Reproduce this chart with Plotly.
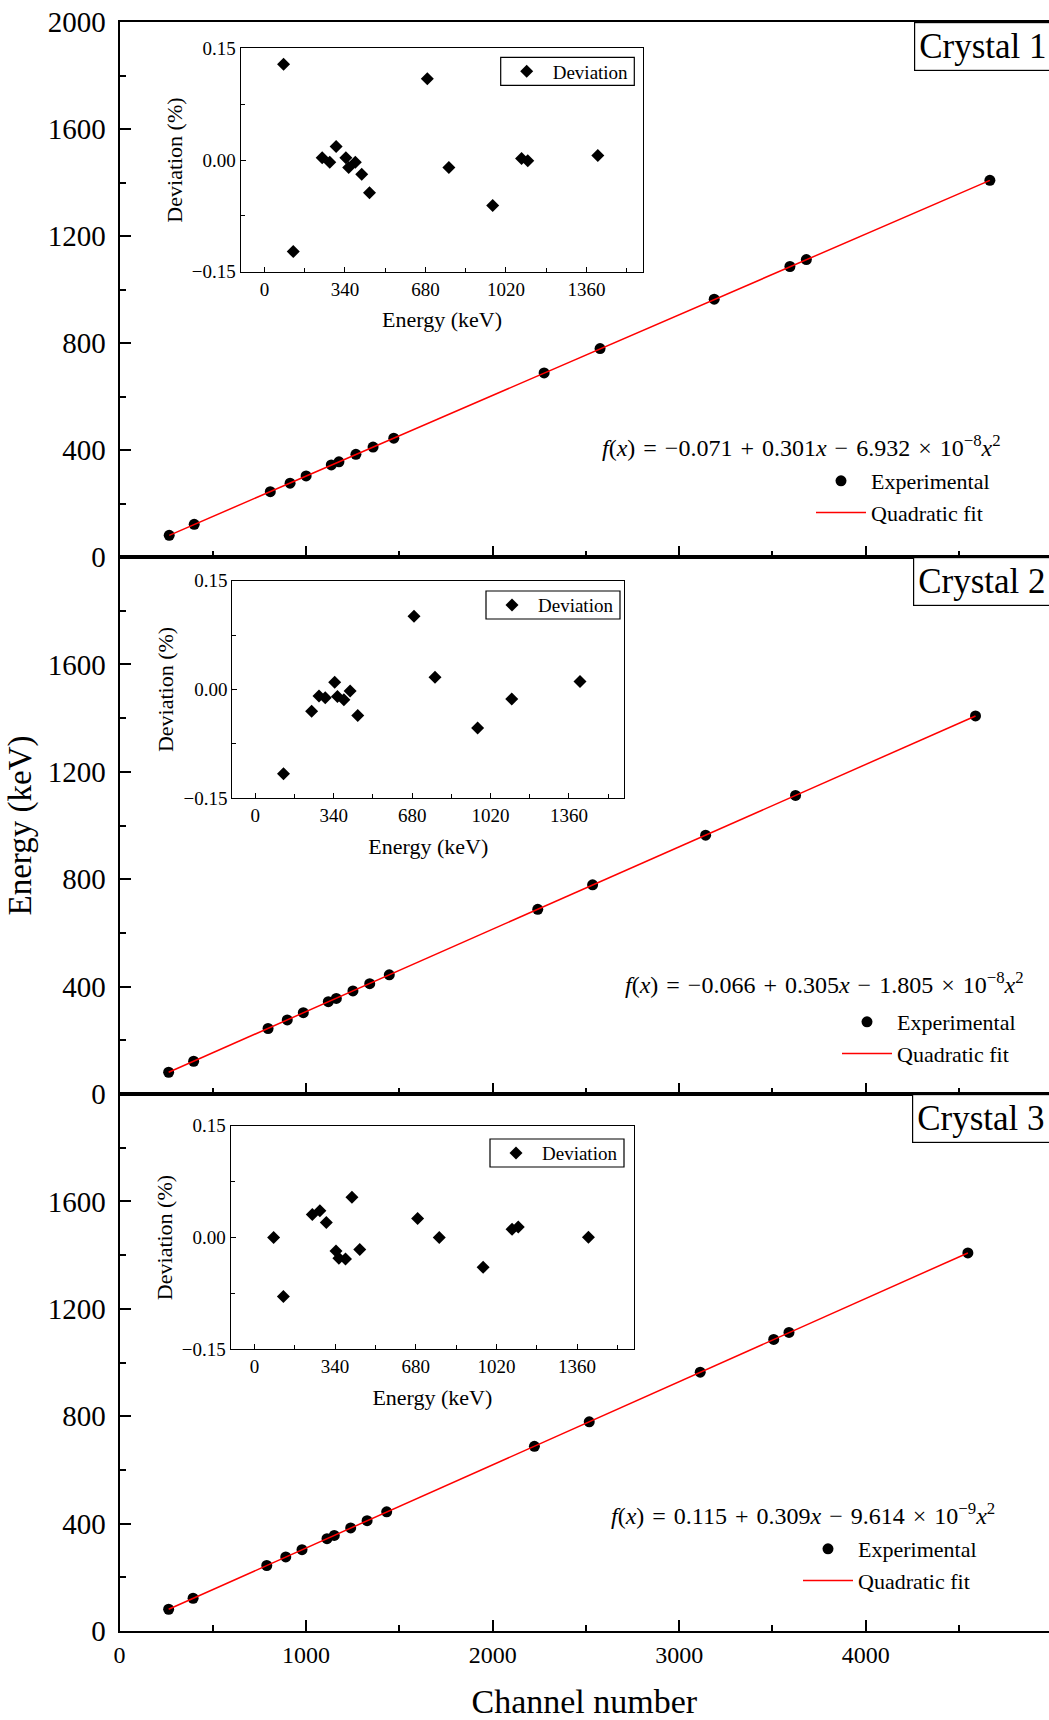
import plotly.graph_objects as go

W, H = 1049, 1720
FONT = "Liberation Serif"

# ---------------- data ----------------
# Crystal 1
ch1 = [266, 400, 808, 914, 1000, 1135, 1176, 1267, 1359, 1470, 2276, 2576, 3188, 3594, 3682, 4666]
en1 = [81, 122, 244, 276, 303, 344, 356, 384, 411, 444, 688, 779, 964, 1086, 1112, 1408]
fit1_ch = [266, 4666]
fit1_en = [81, 1408]
dev1_e = [81, 122, 244, 276, 303, 344, 356, 384, 411, 444, 688, 779, 964, 1086, 1112, 1408]
dev1 = [0.1285, -0.123, 0.003, -0.003, 0.018, 0.003, -0.010, -0.003, -0.019, -0.044,
        0.109, -0.010, -0.061, 0.002, -0.001, 0.006]

# Crystal 2
ch2 = [263, 397, 796, 899, 985, 1119, 1162, 1251, 1341, 1446, 2242, 2536, 3142, 3624, 4589]
en2 = [81, 122, 244, 276, 303, 344, 356, 384, 411, 444, 688, 779, 964, 1112, 1408]
fit2_ch = [263, 4589]
fit2_en = [81, 1408]
dev2_e = [122, 244, 276, 303, 344, 356, 384, 411, 444, 688, 779, 964, 1112, 1408]
dev2 = [-0.116, -0.030, -0.009, -0.0115, 0.010, -0.0096, -0.014, -0.002, -0.036,
        0.101, 0.017, -0.053, -0.013, 0.011]

# Crystal 3
ch3 = [263, 394, 789, 891, 978, 1112, 1151, 1239, 1327, 1432, 2224, 2518, 3113, 3507, 3589, 4548]
en3 = [81, 122, 244, 276, 303, 344, 356, 384, 411, 444, 688, 779, 964, 1086, 1112, 1408]
fit3_ch = [263, 4548]
fit3_en = [81, 1408]
dev3_e = [81, 122, 244, 276, 303, 344, 356, 384, 411, 444, 688, 779, 964, 1086, 1112, 1408]
dev3 = [0.000, -0.079, 0.031, 0.036, 0.020, -0.018, -0.028, -0.029, 0.054, -0.016,
        0.0255, 0.000, -0.040, 0.011, 0.014, 0.0004]

crystal_labels = ["Crystal 1", "Crystal 2", "Crystal 3"]
SP = " \u200a"
formulas = [
    f"<i>f</i>(<i>x</i>){SP}={SP}\u22120.071{SP}+{SP}0.301<i>x</i>{SP}\u2212{SP}6.932{SP}\u00d7{SP}10<sup>\u22128</sup><i>x</i><sup>2</sup>",
    f"<i>f</i>(<i>x</i>){SP}={SP}\u22120.066{SP}+{SP}0.305<i>x</i>{SP}\u2212{SP}1.805{SP}\u00d7{SP}10<sup>\u22128</sup><i>x</i><sup>2</sup>",
    f"<i>f</i>(<i>x</i>){SP}={SP}0.115{SP}+{SP}0.309<i>x</i>{SP}\u2212{SP}9.614{SP}\u00d7{SP}10<sup>\u22129</sup><i>x</i><sup>2</sup>",
]

main_x_ticks = [0, 1000, 2000, 3000, 4000]
main_x_minor = [500, 1500, 2500, 3500, 4500]
main_y_ticks_top = [0, 400, 800, 1200, 1600, 2000]
main_y_ticks = [0, 400, 800, 1200, 1600]
main_y_minor = [200, 600, 1000, 1400, 1800]
ins_x_ticks = [0, 340, 680, 1020, 1360]
ins_x_minor = [170, 510, 850, 1190, 1530]
ins_y_ticks = [-0.15, 0.0, 0.15]
ins_y_text = ["\u22120.15", "0.00", "0.15"]
ins_y_minor = [-0.075, 0.075]


def px(x):
    return x / W


def py(y):
    return 1 - y / H


# ---------------- geometry (pixels in the 1049x1720 page) ----------------
main_left = 119.6
panels = [(22, 557), (557, 1094), (1094, 1631)]           # top, bottom
insets = [(240.7, 643.3, 48.3, 271.7),
          (232.3, 624.3, 580.7, 798.3),
          (230.7, 634.0, 1125.7, 1349.3)]                   # l, r, t, b
main_leg = [(811, 460), (837, 1001), (798, 1528)]           # legend left, top
ins_leg_box = [(500.7, 634.3, 57.3, 85.3),
               (486.0, 620.0, 591.0, 619.0),
               (490.0, 624.0, 1139.0, 1167.0)]
formula_pos = [(600, 446), (623, 983), (609, 1514)]
crystal_box = [(914, 22), (913, 557), (912, 1094)]

fig = go.Figure()

data_main = [(ch1, en1, fit1_ch, fit1_en), (ch2, en2, fit2_ch, fit2_en), (ch3, en3, fit3_ch, fit3_en)]
data_dev = [(dev1_e, dev1), (dev2_e, dev2), (dev3_e, dev3)]

for i in range(3):
    n = i + 1
    xa = "x" if n == 1 else f"x{n}"
    ya = "y" if n == 1 else f"y{n}"
    lg = "legend" if n == 1 else f"legend{n}"
    ch, en, fch, fen = data_main[i]
    fig.add_trace(go.Scatter(x=ch, y=en, mode="markers", name="Experimental",
                             marker=dict(color="black", size=11, symbol="circle"),
                             xaxis=xa, yaxis=ya, legend=lg))
    fig.add_trace(go.Scatter(x=fch, y=fen, mode="lines", name="Quadratic fit",
                             line=dict(color="#ff0000", width=1.5),
                             xaxis=xa, yaxis=ya, legend=lg))

for i in range(3):
    n = i + 4
    lg = f"legend{n}"
    de, dv = data_dev[i]
    fig.add_trace(go.Scatter(x=de, y=dv, mode="markers", name="Deviation",
                             marker=dict(color="black", size=10, symbol="diamond"),
                             xaxis=f"x{n}", yaxis=f"y{n}", legend=lg))

layout = dict(
    width=W, height=H,
    margin=dict(l=0, r=0, t=0, b=0, autoexpand=False),
    paper_bgcolor="white", plot_bgcolor="white",
    font=dict(family=FONT, color="black", size=22),
    showlegend=True,
)

axis_common = dict(showline=True, linecolor="black", showgrid=False, zeroline=False,
                   ticks="inside", tickcolor="black", automargin=False)

for i in range(3):
    n = i + 1
    top, bot = panels[i]
    xk = "xaxis" if n == 1 else f"xaxis{n}"
    yk = "yaxis" if n == 1 else f"yaxis{n}"
    ya = "y" if n == 1 else f"y{n}"
    xa = "x" if n == 1 else f"x{n}"
    layout[xk] = dict(axis_common, domain=[px(main_left), 1.0], anchor=ya,
                      range=[0, 4983], tickmode="array", tickvals=main_x_ticks,
                      ticklen=11, tickwidth=1.5, linewidth=2, mirror=True,
                      showticklabels=(n == 3), tickfont=dict(size=24),
                      ticklabelstandoff=1,
                      minor=dict(tickvals=main_x_minor, ticks="inside", ticklen=6,
                                 tickwidth=1.5, tickcolor="black"))
    layout[yk] = dict(axis_common, domain=[py(bot), py(top)], anchor=xa,
                      range=[0, 2000], tickmode="array",
                      tickvals=main_y_ticks_top if n == 1 else main_y_ticks,
                      ticklen=11, tickwidth=1.5, linewidth=2, mirror=False,
                      tickfont=dict(size=29), ticklabelstandoff=6,
                      minor=dict(tickvals=main_y_minor, ticks="inside", ticklen=6,
                                 tickwidth=1.5, tickcolor="black"))
    if n == 3:
        layout[xk]["title"] = dict(text="Channel number", font=dict(size=34), standoff=24)
    if n == 2:
        layout[yk]["title"] = dict(text="Energy (keV)", font=dict(size=33), standoff=6)

for i in range(3):
    n = i + 4
    l, r, t, b = insets[i]
    layout[f"xaxis{n}"] = dict(axis_common, domain=[px(l), px(r)], anchor=f"y{n}",
                               range=[-100, 1600], tickmode="array", tickvals=ins_x_ticks,
                               ticklen=5, tickwidth=1, linewidth=1.2, mirror=True,
                               tickfont=dict(size=19), ticklabelstandoff=0,
                               title=dict(text="Energy (keV)", font=dict(size=22), standoff=13),
                               minor=dict(tickvals=ins_x_minor, ticks="inside", ticklen=4,
                                          tickwidth=1, tickcolor="black"))
    layout[f"yaxis{n}"] = dict(axis_common, domain=[py(b), py(t)], anchor=f"x{n}",
                               range=[-0.15, 0.15], tickmode="array", tickvals=ins_y_ticks,
                               ticktext=ins_y_text,
                               ticklen=5, tickwidth=1, linewidth=1.2, mirror=True,
                               tickfont=dict(size=19), ticklabelstandoff=0,
                               title=dict(text="Deviation (%)", font=dict(size=22), standoff=3),
                               minor=dict(tickvals=ins_y_minor, ticks="inside", ticklen=4,
                                          tickwidth=1, tickcolor="black"))

# legends
for i in range(3):
    n = i + 1
    key = "legend" if n == 1 else f"legend{n}"
    lx, ly = main_leg[i]
    layout[key] = dict(x=px(lx), y=py(ly), xanchor="left", yanchor="top",
                       bgcolor="rgba(0,0,0,0)", borderwidth=0, itemwidth=50,
                       font=dict(size=22, family=FONT), tracegroupgap=0)
for i in range(3):
    n = i + 4
    l, r, t, b = ins_leg_box[i]
    cy = (t + b) / 2
    layout[f"legend{n}"] = dict(x=px(l), y=py(cy - 18.85), xanchor="left", yanchor="top",
                                bgcolor="rgba(0,0,0,0)", borderwidth=0, itemwidth=42,
                                font=dict(size=19, family=FONT))

shapes = []
annotations = []
for i in range(3):
    n = i + 4
    shapes.append(dict(type="line", xref=f"x{n} domain", yref=f"y{n}", x0=0, x1=1, y0=0, y1=0,
                       line=dict(color="#ff0000", width=2, dash="15px,9px"), layer="below"))
    l, r, t, b = ins_leg_box[i]
    shapes.append(dict(type="rect", xref="paper", yref="paper", x0=px(l), x1=px(r),
                       y0=py(b), y1=py(t), line=dict(color="black", width=1.2),
                       fillcolor="rgba(0,0,0,0)"))

for i in range(3):
    fx, fy = formula_pos[i]
    annotations.append(dict(text=formulas[i], xref="paper", yref="paper", x=px(fx), y=py(fy),
                            xanchor="left", yanchor="middle", showarrow=False,
                            font=dict(size=24, family=FONT)))
    cx, cy = crystal_box[i]
    annotations.append(dict(text=crystal_labels[i], xref="paper", yref="paper", x=px(cx), y=py(cy),
                            xanchor="left", yanchor="top", showarrow=False, align="left",
                            width=140, bordercolor="black", borderwidth=1.2, borderpad=4,
                            bgcolor="white", font=dict(size=35, family=FONT)))

layout["shapes"] = shapes
layout["annotations"] = annotations
fig.update_layout(**layout)

fig.write_html("out.html")
